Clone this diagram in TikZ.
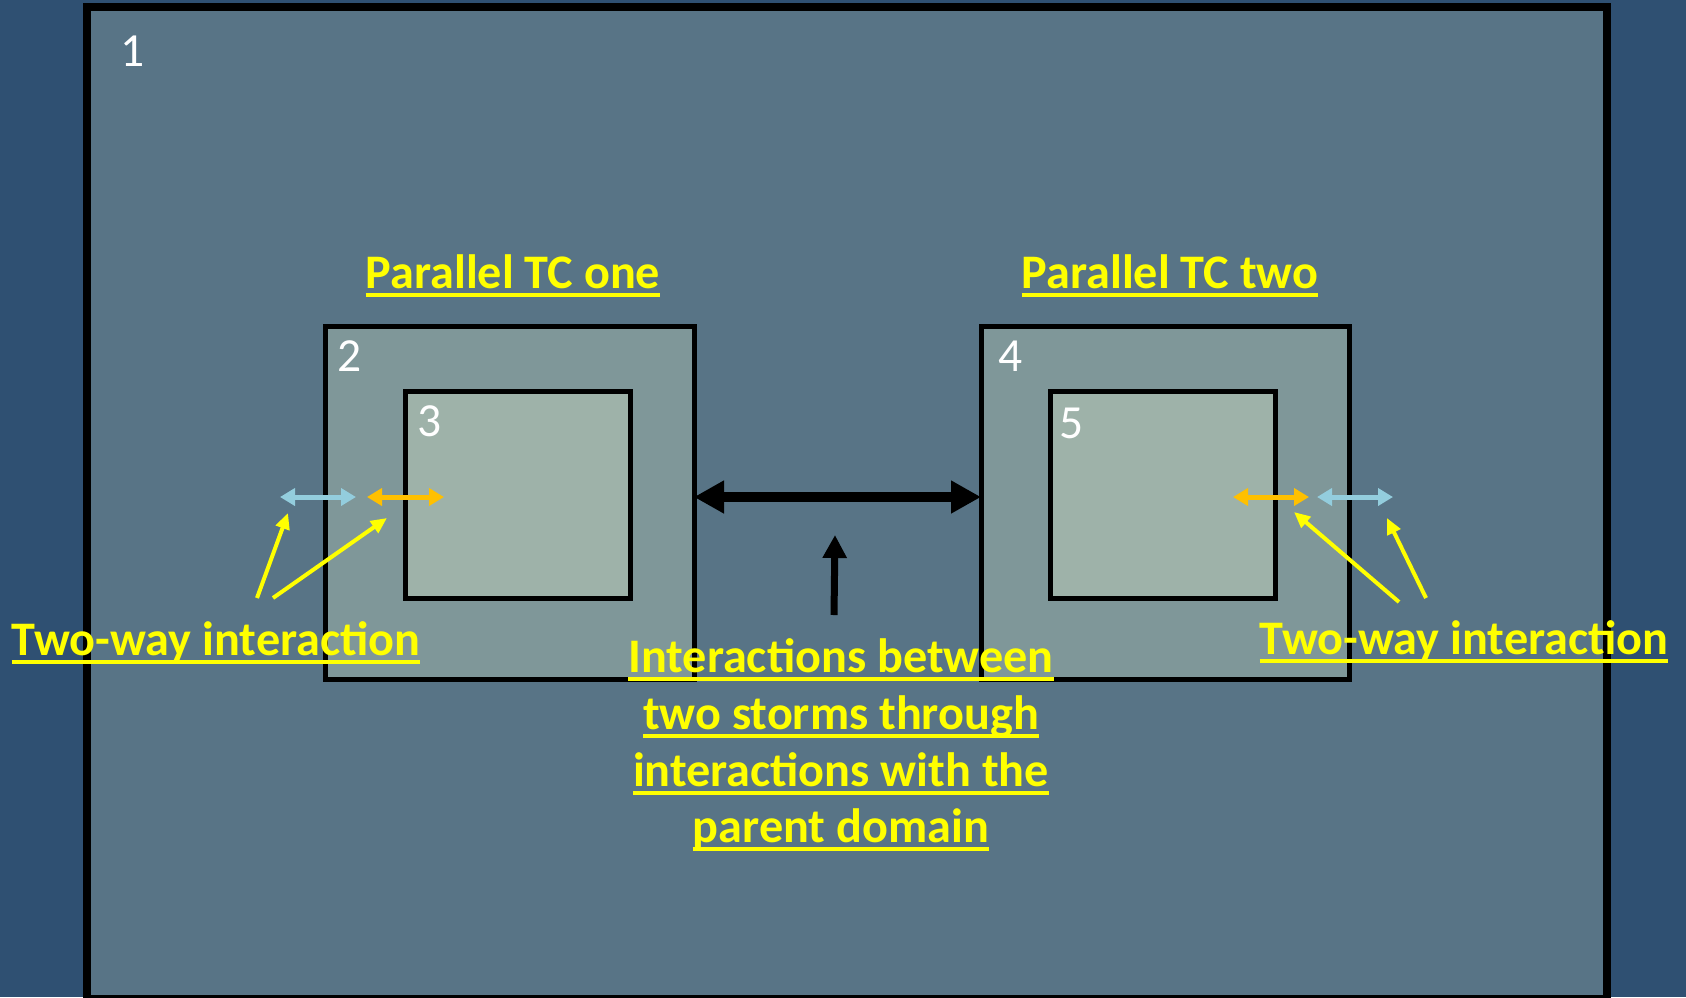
\documentclass[tikz,border=0pt]{standalone}
\usepackage{fontspec}
\setmainfont{Carlito}
\usetikzlibrary{arrows.meta}
\definecolor{bgblue}{HTML}{2F5072}
\definecolor{dom1}{HTML}{587486}
\definecolor{dom2}{HTML}{7F9799}
\definecolor{dom3}{HTML}{9EB2A9}
\definecolor{lblue}{HTML}{93CDDD}
\definecolor{orng}{HTML}{FFC000}
\definecolor{ylw}{HTML}{FFFF00}
\tikzset{
  dombox/.style={draw=black, line width=5pt, inner sep=0pt, outer sep=0pt},
  numlab/.style={text=white, font=\fontsize{47.5}{57}\selectfont, inner sep=0pt, anchor=base},
  ylab/.style={text=ylw, font=\bfseries\fontsize{48.2}{57}\selectfont, inner sep=0pt, anchor=base},
  uline/.style={draw=ylw, line width=3.3pt},
  smallarr/.style={line width=5pt, {Triangle[length=15pt,width=17pt]}-{Triangle[length=15pt,width=17pt]}},
  yarr/.style={draw=ylw, line width=4pt, -{Triangle[length=16pt,width=14pt]}},
  bigarr/.style={draw=black, line width=10pt, {Triangle[length=30pt,width=31pt]}-{Triangle[length=30pt,width=31pt]}},
  uparr/.style={draw=black, line width=7pt, -{Triangle[length=23pt,width=23pt]}}
}
\newcommand{\ulabel}[3]{%
  \node[ylab] (#1) at (#2) {#3};
  \draw[uline] ([yshift=-7pt]#1.base west) -- ([yshift=-7pt]#1.base east);
}
\begin{document}
\begin{tikzpicture}[x=1pt,y=-1pt]
\useasboundingbox[fill=bgblue] (0,0) rectangle (1686,997);
% domains
\node[dombox, line width=8pt, fill=dom1, minimum width=1520pt, minimum height=992pt] (b1) at (847,503) {};
\node[dombox, fill=dom2, minimum width=368.5pt, minimum height=352.3pt] (b2) at (509.75,502.85) {};
\node[dombox, fill=dom3, minimum width=224.5pt, minimum height=207pt] (b3) at (517.75,494.5) {};
\node[dombox, fill=dom2, minimum width=368pt, minimum height=352.3pt] (b4) at (1165,502.85) {};
\node[dombox, fill=dom3, minimum width=224.5pt, minimum height=207pt] (b5) at (1162.75,494.5) {};
% numbers
\node[numlab] (n1) at (133,66) {1};
\node[numlab] (n2) at (350,371) {2};
\node[numlab] (n3) at (430,436) {3};
\node[numlab] (n4) at (1011,371) {4};
\node[numlab] (n5) at (1072,438) {5};
% coordinates
\coordinate (mid) at (0,497);
\coordinate (lb1) at (280,497); \coordinate (lb2) at (356,497);
\coordinate (lo1) at (367,497); \coordinate (lo2) at (444,497);
\coordinate (ro1) at (1233,497); \coordinate (ro2) at (1309,497);
\coordinate (rb1) at (1317,497); \coordinate (rb2) at (1393,497);
\coordinate (ya1s) at (257,598); \coordinate (ya1e) at (288,513);
\coordinate (ya2s) at (273,598); \coordinate (ya2e) at (387,518);
\coordinate (ya3s) at (1399,602); \coordinate (ya3e) at (1294,512);
\coordinate (ya4s) at (1426,598); \coordinate (ya4e) at (1387,518);
\coordinate (ups) at (834,615); \coordinate (upe) at (835,535);
% arrows
\draw[smallarr, draw=lblue, fill=lblue] (lb1) -- (lb2);
\draw[smallarr, draw=orng, fill=orng] (lo1) -- (lo2);
\draw[smallarr, draw=orng, fill=orng] (ro1) -- (ro2);
\draw[smallarr, draw=lblue, fill=lblue] (rb1) -- (rb2);
\draw[yarr] (ya1s) -- (ya1e);
\draw[yarr] (ya2s) -- (ya2e);
\draw[yarr] (ya3s) -- (ya3e);
\draw[yarr] (ya4s) -- (ya4e);
\draw[bigarr] (b2.east |- mid) -- (b4.west |- mid);
\draw[uparr] (ups) -- (upe);
% labels
\ulabel{t1}{513,288}{Parallel TC one}
\ulabel{t2}{1170,288}{Parallel TC two}
\ulabel{t3}{216,655}{Two-way interaction}
\ulabel{t4}{1464,654}{Two-way interaction}
\ulabel{c1}{841,672}{Interactions between}
\ulabel{c2}{841,729}{two storms through}
\ulabel{c3}{841,786}{interactions with the}
\ulabel{c4}{841,842}{parent domain}
\end{tikzpicture}
\end{document}
